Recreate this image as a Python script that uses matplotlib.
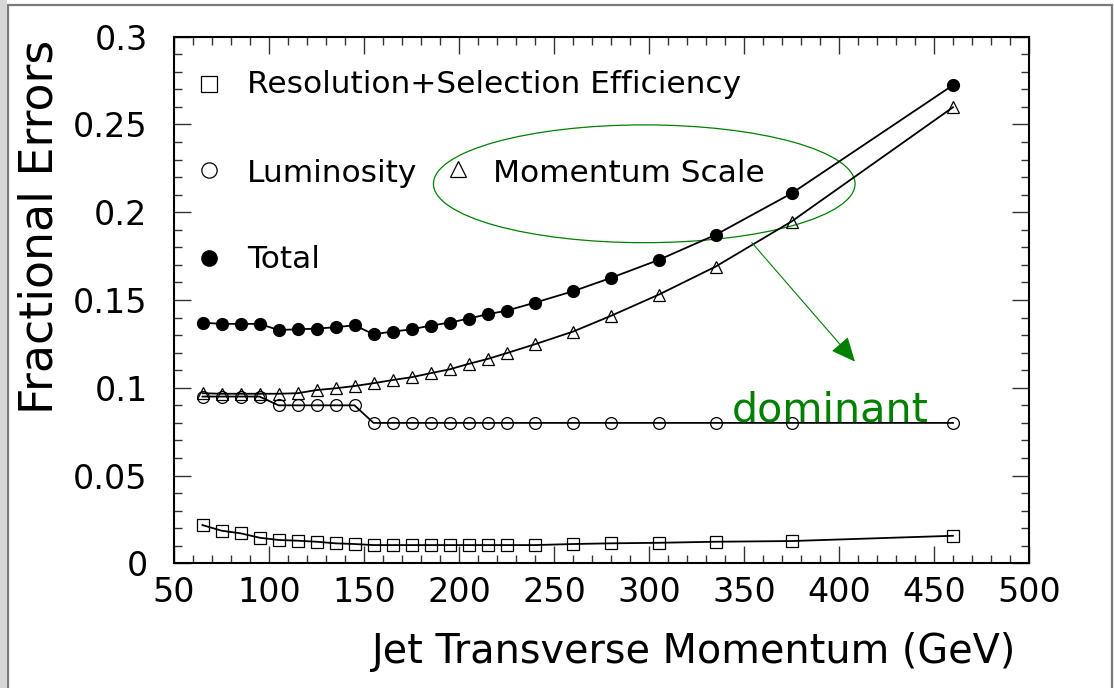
import matplotlib
matplotlib.use('Agg')
import matplotlib.pyplot as plt
from matplotlib.patches import Ellipse, Rectangle
from matplotlib.ticker import MultipleLocator

plt.rcParams['font.family'] = ['DejaVu Sans']

# jet pt bins (GeV)
pt = [65, 75, 85, 95, 105, 115, 125, 135, 145, 155, 165, 175, 185, 195,
      205, 215, 225, 240, 260, 280, 305, 335, 375, 460]

# fractional errors
resolution = [0.0218, 0.0186, 0.0171, 0.0146, 0.0133, 0.0129, 0.0123, 0.0114,
              0.0110, 0.0104, 0.0104, 0.0104, 0.0104, 0.0104, 0.0104, 0.0104,
              0.0104, 0.0104, 0.0110, 0.0114, 0.0117, 0.0123, 0.0127, 0.0157]
luminosity = [0.095, 0.095, 0.095, 0.095, 0.090, 0.090, 0.090, 0.090, 0.090,
              0.080, 0.080, 0.080, 0.080, 0.080, 0.080, 0.080, 0.080, 0.080,
              0.080, 0.080, 0.080, 0.080, 0.080, 0.080]
momentum = [0.0969, 0.0966, 0.0966, 0.0966, 0.0966, 0.0969, 0.0987, 0.0997,
            0.1010, 0.1026, 0.1044, 0.1060, 0.1083, 0.1105, 0.1136, 0.1164,
            0.1197, 0.1248, 0.1320, 0.1410, 0.1530, 0.1690, 0.1947, 0.2598]
total = [0.1371, 0.1364, 0.1364, 0.1364, 0.1329, 0.1333, 0.1337, 0.1345,
         0.1356, 0.1305, 0.1320, 0.1333, 0.1354, 0.1371, 0.1394, 0.1419,
         0.1439, 0.1485, 0.1550, 0.1626, 0.1728, 0.1871, 0.2107, 0.2724]

green = '#008000'

fig = plt.figure(figsize=(11.14, 6.88), dpi=100)
ax = fig.add_axes([0.1562, 0.1812, 0.7675, 0.7655])

# outer frame of the original page
fig.patches.append(Rectangle((8/1114, -0.05), (1111.5-8)/1114, 1.05 - 5/688,
                             transform=fig.transFigure, fill=False,
                             edgecolor='#7a7a7a', lw=1.6))
fig.patches.append(Rectangle((0, 0), 7/1114, 1, transform=fig.transFigure,
                             facecolor='#d6d6d6', edgecolor='none'))

lw = 1.3
ax.plot(pt, resolution, color='black', lw=lw, marker='s', ms=8.5,
        mfc='none', mec='black', mew=0.9)
ax.plot(pt, luminosity, color='black', lw=lw, marker='o', ms=8.5,
        mfc='none', mec='black', mew=0.9)
ax.plot(pt, momentum, color='black', lw=lw, marker='^', ms=8.5,
        mfc='none', mec='black', mew=0.9)
ax.plot(pt, total, color='black', lw=lw, marker='o', ms=8.5,
        mfc='black', mec='black')

ax.set_xlim(50, 500)
ax.set_ylim(0, 0.3)
ax.xaxis.set_major_locator(MultipleLocator(50))
ax.xaxis.set_minor_locator(MultipleLocator(10))
ax.yaxis.set_major_locator(MultipleLocator(0.05))
ax.yaxis.set_minor_locator(MultipleLocator(0.01))
ax.set_yticks([0, 0.05, 0.1, 0.15, 0.2, 0.25, 0.3])
ax.set_yticklabels(['0', '0.05', '0.1', '0.15', '0.2', '0.25', '0.3'])
ax.tick_params(which='both', direction='in', top=True, right=True,
               color='#333333', width=1.0)
ax.tick_params(which='major', length=12.2)
ax.tick_params(which='minor', length=6.1)
ax.tick_params(axis='x', labelsize=24, pad=9)
ax.tick_params(axis='y', labelsize=24, pad=19)
for s in ax.spines.values():
    s.set_linewidth(1.5)

# axis titles, right-aligned at the axis ends
fig.text(1015/1114, 1 - 663/688, 'Jet Transverse Momentum (GeV)',
         ha='right', va='baseline', fontsize=28.6)
fig.text(53/1114, 1 - 40/688, 'Fractional Errors', rotation=90,
         rotation_mode='anchor', ha='right', va='baseline', fontsize=33)

# legend
fs = 22.5
ax.plot([0.0413], [0.910], transform=ax.transAxes, marker='s', ms=11,
        mfc='none', mec='black', mew=0.9)
ax.text(0.085, 0.8937, 'Resolution+Selection Efficiency', transform=ax.transAxes,
        fontsize=fs, va='baseline')
ax.plot([0.0413], [0.7469], transform=ax.transAxes, marker='o', ms=11,
        mfc='none', mec='black', mew=0.9)
ax.text(0.085, 0.7247, 'Luminosity', transform=ax.transAxes,
        fontsize=fs, va='baseline')
ax.plot([0.3322], [0.7488], transform=ax.transAxes, marker='^', ms=11,
        mfc='none', mec='black', mew=0.9)
ax.text(0.3735, 0.7247, 'Momentum Scale', transform=ax.transAxes,
        fontsize=fs, va='baseline')
ax.plot([0.0413], [0.5804], transform=ax.transAxes, marker='o', ms=11,
        mfc='black', mec='black')
ax.text(0.085, 0.5602, 'Total', transform=ax.transAxes,
        fontsize=fs, va='baseline')

# annotation
ax.add_patch(Ellipse((297.5, 0.2162), 221.9, 0.0671, fill=False,
                     edgecolor=green, lw=0.9))
ax.annotate('', xy=(408.4, 0.1149), xytext=(354.1, 0.1827),
            arrowprops=dict(arrowstyle='-|>,head_length=0.4,head_width=0.18',
                            color=green, lw=0.8, mutation_scale=38,
                            shrinkA=0, shrinkB=0))
ax.text(0.6523, (563.3 - 421.7) / 526.6, 'dominant', transform=ax.transAxes,
        color=green, fontsize=29.7, va='baseline')

fig.savefig('out.png', dpi=100)
